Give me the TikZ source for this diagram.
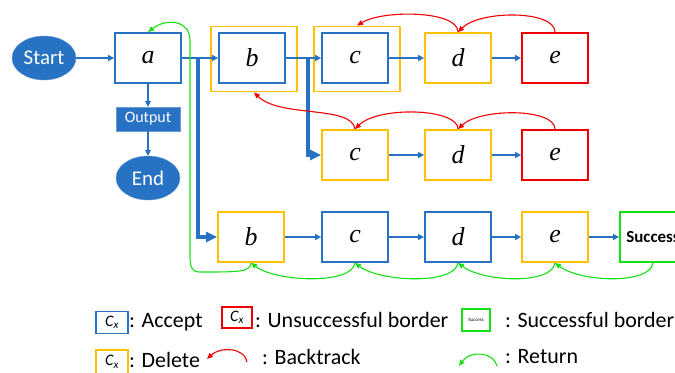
\documentclass[tikz,border=0pt]{standalone}
\usepackage{fontspec}
\setmainfont{Carlito}
\newfontfamily\letterfont{Liberation Serif}
\usetikzlibrary{arrows.meta,shapes.geometric}

\begin{document}
\begin{tikzpicture}[>=Triangle, x=1bp, y=-1bp]

% Colors
\definecolor{accblue}{RGB}{40,114,196}
\definecolor{delyellow}{RGB}{255,192,0}
\definecolor{failred}{RGB}{240,0,0}
\definecolor{okgreen}{RGB}{20,224,20}

% Styles
\tikzset{
  box/.style={
    rectangle,
    fill=white,
    line width=1.8bp,
    minimum width=66bp,
    minimum height=50bp,
    inner sep=0pt,
    font=\letterfont\itshape\fontsize{26}{26}\selectfont
  },
  Bbox/.style={box, draw=accblue},
  Dbox/.style={box, draw=delyellow},
  Ubox/.style={box, draw=failred},
  Sbox/.style={box, draw=okgreen, font=\bfseries\fontsize{17}{17}\selectfont},
  Dout/.style={
    rectangle,
    draw=delyellow,
    fill=white,
    line width=1.8bp,
    minimum width=86bp,
    minimum height=65bp,
    inner sep=0pt
  },
  term/.style={
    ellipse,
    fill=accblue,
    draw=accblue!70!white,
    text=white,
    minimum width=64bp,
    minimum height=44bp,
    inner sep=0pt,
    font=\fontsize{21}{21}\selectfont
  },
  outbox/.style={
    rectangle,
    fill=accblue,
    draw=accblue!70!white,
    text=white,
    minimum width=64bp,
    minimum height=24bp,
    inner sep=0pt,
    font=\fontsize{16}{16}\selectfont
  },
  flow/.style={
    -{Triangle[length=6bp,width=6bp]},
    line width=1.5bp,
    draw=accblue
  },
  branch/.style={
    -{Triangle[length=11bp,width=10bp]},
    line width=3.5bp,
    draw=accblue
  },
  Barrow/.style={
    -{Triangle[length=6bp,width=5bp]},
    line width=1.1bp,
    draw=failred
  },
  Rarrow/.style={
    -{Triangle[length=6bp,width=5bp]},
    line width=1.1bp,
    draw=okgreen
  },
  lg/.style={
    rectangle,
    fill=white,
    line width=1.6bp,
    minimum width=32bp,
    minimum height=22bp,
    inner sep=0pt,
    font=\itshape\fontsize{16}{16}\selectfont
  },
  lgtext/.style={
    anchor=west,
    inner sep=0pt,
    font=\fontsize{22}{22}\selectfont
  }
}

\useasboundingbox (0,0) rectangle (675,372);
\clip (0,0) rectangle (675,372);

% Start, a, output, end
\node[term] (start) at (44,58) {Start};
\node[Bbox] (a) at (148,58) {a};
\node[outbox] (out) at (148,119) {Output};
\node[term] (stop) at (148,178) {End};

% Top row (outer delete frames first)
\node[Dout] (bTo) at (254,59) {};
\node[Dout] (cTo) at (357,59) {};
\node[Bbox] (bT) at (252,58) {b};
\node[Bbox] (cT) at (355,58) {c};
\node[Dbox] (dT) at (458,58) {d};
\node[Ubox] (eT) at (555,58) {e};

% Middle row
\node[Dbox] (cM) at (355,155) {c};
\node[Dbox] (dM) at (458,155) {d};
\node[Ubox] (eM) at (555,155) {e};

% Bottom row
\node[Dbox] (bB) at (251,237) {b};
\node[Bbox] (cB) at (355,237) {c};
\node[Bbox] (dB) at (458,237) {d};
\node[Dbox] (eB) at (555,237) {e};
\node[Sbox] (sB) at (653,237) {Success};

% Branch points
\coordinate (j1) at (198,58);
\coordinate (j2) at (308,58);

% Forward arrows
\draw[flow] (start) -- (a);
\draw[flow] (a) -- (out);
\draw[flow] (out) -- (stop);
\draw[flow] (a) -- (bT);
\draw[flow] (bT) -- (cT);
\draw[flow] (cT) -- (dT);
\draw[flow] (dT) -- (eT);
\draw[flow] (cM) -- (dM);
\draw[flow] (dM) -- (eM);
\draw[flow] (bB) -- (cB);
\draw[flow] (cB) -- (dB);
\draw[flow] (dB) -- (eB);
\draw[flow] (eB) -- (sB);

% Thick branches
\draw[branch] (j1) |- (bB);
\draw[branch] (j2) |- (cM);

% Backtrack, top row
\draw[Barrow] (eT.north) .. controls (555,10) and (480,10) .. (dT.north);
\draw[Barrow] (dT.north) .. controls (458,10) and (382,10) .. (cTo.north);

% Backtrack, middle row
\draw[Barrow] (eM.north) .. controls (555,108) and (480,108) .. (dM.north);
\draw[Barrow] (dM.north) .. controls (458,108) and (378,106) .. (cM.north);
\draw[Barrow] (cM.north) .. controls (352,105) and (280,118) .. (bTo.south);

% Return, bottom row
\draw[Rarrow] (sB.south) .. controls (650,285) and (580,282) .. (eB.south);
\draw[Rarrow] (eB.south) .. controls (552,285) and (483,282) .. (dB.south);
\draw[Rarrow] (dB.south) .. controls (455,285) and (380,282) .. (cB.south);
\draw[Rarrow] (cB.south) .. controls (352,285) and (276,282) .. (bB.south);
\draw[Rarrow] (bB.south) .. controls (250,272) and (240,272) .. (200,272)
  .. controls (191,272) and (190,266) .. (190,255) -- (190,40)
  .. controls (190,20) and (166,18) .. (a.north);

% Legend
\node[lg, draw=accblue] (lgA) at (112,322.5) {C\textsubscript{x}};
\node[lgtext] (tA) at (129,322) {: Accept};
\node[lg, draw=failred, minimum width=30bp, minimum height=21bp] (lgU) at (237,317.5) {C\textsubscript{x}};
\node[lgtext] (tU) at (255,320) {: Unsuccessful border};
\node[lg, draw=okgreen, minimum width=28bp, minimum height=22bp,
  font=\fontsize{5}{5}\selectfont] (lgS) at (476,320) {Success};
\node[lgtext] (tS) at (505,320) {: Successful border};
\node[lg, draw=delyellow, minimum height=24bp] (lgD) at (112,362) {C\textsubscript{x}};
\node[lgtext] (tD) at (129,360) {: Delete};
\coordinate (bk1) at (247,362);
\coordinate (bk2) at (207,359);
\draw[Barrow] (bk1) .. controls (245,348) and (221,346) .. (bk2);
\node[lgtext] (tB) at (262,357) {: Backtrack};
\coordinate (rt1) at (497,366);
\coordinate (rt2) at (459,366);
\draw[Rarrow] (rt1) .. controls (494,352) and (470,350) .. (rt2);
\node[lgtext] (tR) at (505,357) {: Return};

\end{tikzpicture}
\end{document}
